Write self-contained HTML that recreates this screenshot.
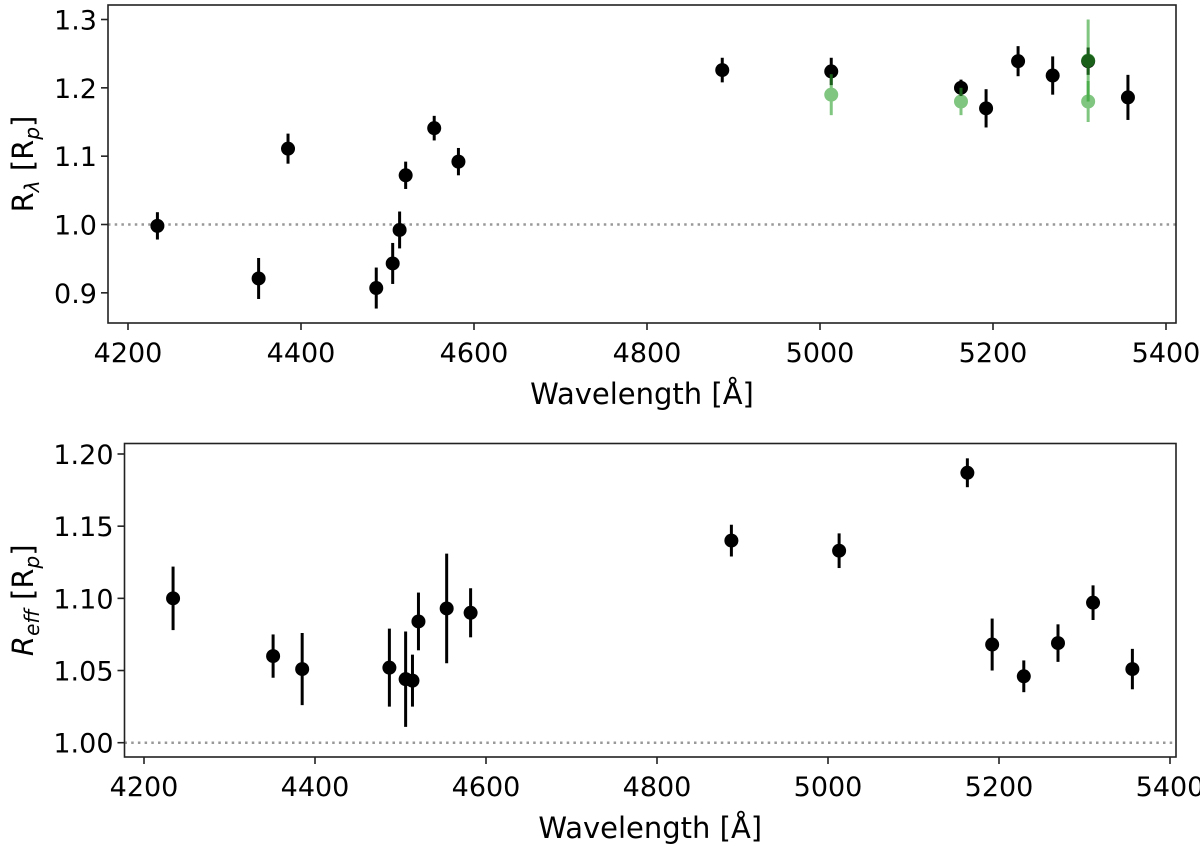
<!DOCTYPE html>
<html><head><meta charset="utf-8"><style>
body{margin:0;background:#fff}
svg{display:block;font-family:"DejaVu Sans","Liberation Sans",sans-serif}
</style></head><body>
<svg id="chart" width="1200" height="847"></svg>
<script>
const wl = [4234,4351,4385,4487,4506,4514,4521,4554,4582,4887,5013,5163,5192,5229,5269,5310,5356];
const topVals = [0.998,0.921,1.111,0.907,0.943,0.992,1.072,1.141,1.092,1.226,1.224,1.200,1.170,1.239,1.218,1.239,1.186];
const topErr = [0.02,0.03,0.022,0.03,0.03,0.027,0.02,0.018,0.02,0.018,0.02,0.012,0.028,0.022,0.028,0.02,0.033];
const greenWl = [5013,5163,5310,5310];
const greenVals = [1.19,1.18,1.18,1.24];
const greenErr = [0.03,0.02,0.03,0.06];
const botVals = [1.100,1.060,1.051,1.052,1.044,1.043,1.084,1.093,1.090,1.140,1.133,1.187,1.068,1.046,1.069,1.097,1.051];
const botErr = [0.022,0.015,0.025,0.027,0.033,0.018,0.02,0.038,0.017,0.011,0.012,0.01,0.018,0.011,0.013,0.012,0.014];
const xTicks = [4200,4400,4600,4800,5000,5200,5400];
const topYTicks = ["0.9","1.0","1.1","1.2","1.3"];
const botYTicks = ["1.00","1.05","1.10","1.15","1.20"];

const svg = document.getElementById('chart');
const NS = 'http://www.w3.org/2000/svg';
function mk(tag, attrs, parent){const e=document.createElementNS(NS,tag);for(const k in attrs)e.setAttribute(k,attrs[k]);(parent||svg).appendChild(e);return e;}

function panel(cfg){
  const g = mk('g',{});
  
  
  const X = v => cfg.x0px + (v-4200)*(cfg.x1px-cfg.x0px)/1200;
  const Y = v => cfg.yApx + (v-cfg.yA)*(cfg.yBpx-cfg.yApx)/(cfg.yB-cfg.yA);
  const dl = mk('line',{x1:cfg.L,x2:cfg.R,y1:Y(1),y2:Y(1),stroke:'#999','stroke-width':2.5,'stroke-dasharray':'2.5,4.2'},g);
  
  
  const drawSeries=(xs,ys,es,color,name,alpha)=>{
    for(let i=0;i<xs.length;i++){
      const pg = mk('g',{opacity:alpha},g);
      
      
      mk('line',{x1:X(xs[i]),x2:X(xs[i]),y1:Y(ys[i]-es[i]),y2:Y(ys[i]+es[i]),stroke:color,'stroke-width':3},pg);
      mk('circle',{cx:X(xs[i]),cy:Y(ys[i]),r:7,fill:color},pg);
    }
  };
  drawSeries(wl,cfg.vals,cfg.errs,'#000','data',1);
  if(cfg.green){
    drawSeries(greenWl,greenVals,greenErr,'#2ca02c','green',0.6);
  }
  const fr = mk('rect',{x:cfg.L,y:cfg.T,width:cfg.R-cfg.L,height:cfg.B-cfg.T,fill:'none',stroke:'#222','stroke-width':1.6},g);
  
  
  xTicks.forEach(t=>{
    mk('line',{x1:X(t),x2:X(t),y1:cfg.B,y2:cfg.B+7,stroke:'#222','stroke-width':1.6},g);
    const tx = mk('text',{x:X(t),y:cfg.B+39,'text-anchor':'middle','font-size':27,fill:'#000'},g);
    tx.textContent=t;
    
    
  });
  cfg.yTicks.forEach(t=>{
    const y=Y(parseFloat(t));
    mk('line',{x1:cfg.L-7,x2:cfg.L,y1:y,y2:y,stroke:'#222','stroke-width':1.6},g);
    const tx = mk('text',{x:cfg.L-11,y:y+10,'text-anchor':'end','font-size':27,fill:'#000'},g);
    tx.textContent=t;
    
    
  });
  const xl = mk('text',{x:(cfg.L+cfg.R)/2,y:cfg.B+81,'text-anchor':'middle','font-size':29,fill:'#000'},g);
  xl.textContent='Wavelength [Å]';
  
  
  const yl = mk('text',{transform:`translate(${cfg.ylx},${(cfg.T+cfg.B)/2}) rotate(-90)`,'text-anchor':'middle','font-size':29,fill:'#000'},g);
  yl.innerHTML = cfg.ylabel;
  
  
}

panel({name:'top-panel',L:108,R:1176,T:5,B:323,x0px:128,x1px:1166,yA:1.0,yApx:224.5,yB:1.3,yBpx:19.5,
  vals:topVals,errs:topErr,green:true,yTicks:topYTicks,ylx:33,
  ylabel:'R<tspan font-size="20" dy="6" font-style="italic">λ</tspan><tspan dy="-6"> [R</tspan><tspan font-size="20" dy="6" font-style="italic">p</tspan><tspan dy="-6">]</tspan>'});
panel({name:'bottom-panel',L:124.5,R:1176,T:443.5,B:757,x0px:144,x1px:1170,yA:1.0,yApx:742.7,yB:1.2,yBpx:454,
  vals:botVals,errs:botErr,green:false,yTicks:botYTicks,ylx:33,
  ylabel:'<tspan font-style="italic">R</tspan><tspan font-size="20" dy="6" font-style="italic">eff</tspan><tspan dy="-6"> [R</tspan><tspan font-size="20" dy="6" font-style="italic">p</tspan><tspan dy="-6">]</tspan>'});
</script>
</body></html>
